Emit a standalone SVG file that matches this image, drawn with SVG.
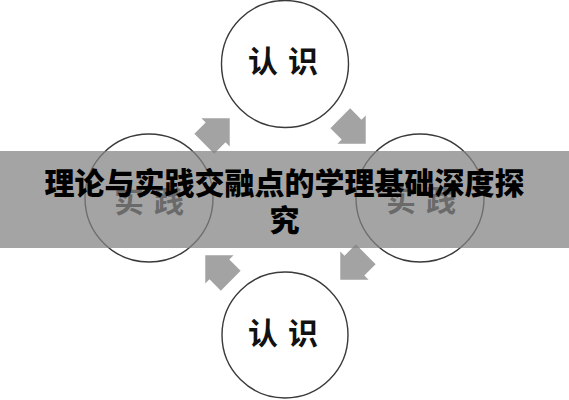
<svg xmlns="http://www.w3.org/2000/svg" width="569" height="400" viewBox="0 0 569 400">
  <defs>
    <style>
      .node circle { fill: #ffffff; stroke: #3a3a3a; stroke-width: 1.4; }
      .lbl { font-family: "Noto Sans CJK SC", "Noto Sans", sans-serif; font-size: 30px; font-weight: 700; text-anchor: middle; letter-spacing: 10px; }
      .dark { fill: #111111; }
      .mid { fill: #2a2a2a; }
      .arrow { fill: #a3a3a3; }
      .title { font-family: "Noto Sans CJK SC", "Noto Sans", sans-serif; font-size: 30px; font-weight: 900; fill: #000000; text-anchor: middle; }
    </style>
    <polygon id="blockArrow" points="-18,-14 -2,-14 -2,-20 18,0 -2,20 -2,14 -18,14"/>
  </defs>
  <rect x="0" y="0" width="569" height="400" fill="#ffffff"/>

  <g id="connectors">
    <use href="#blockArrow" class="arrow" transform="translate(217,131) rotate(-45)"/>
    <use href="#blockArrow" class="arrow" transform="translate(353,131) rotate(45)"/>
    <use href="#blockArrow" class="arrow" transform="translate(353,267) rotate(135)"/>
    <use href="#blockArrow" class="arrow" transform="translate(218,268) rotate(225)"/>
  </g>

  <g id="node-top" class="node">
    <circle cx="285" cy="64" r="63.5"/>
    <text class="lbl dark" x="288" y="72">认识</text>
  </g>
  <g id="node-right" class="node">
    <circle cx="420" cy="198" r="64"/>
    <text class="lbl mid" x="426" y="211">实践</text>
  </g>
  <g id="node-bottom" class="node">
    <circle cx="285" cy="335" r="63"/>
    <text class="lbl dark" x="288" y="344">认识</text>
  </g>
  <g id="node-left" class="node">
    <circle cx="149" cy="198" r="64"/>
    <text class="lbl mid" x="154" y="212">实践</text>
  </g>

  <g id="banner">
    <rect x="0" y="151" width="569" height="97" fill="#828282" fill-opacity="0.73"/>
    <text class="title" x="284.5" y="194">理论与实践交融点的学理基础深度探</text>
    <text class="title" x="284.5" y="231">究</text>
  </g>
</svg>
